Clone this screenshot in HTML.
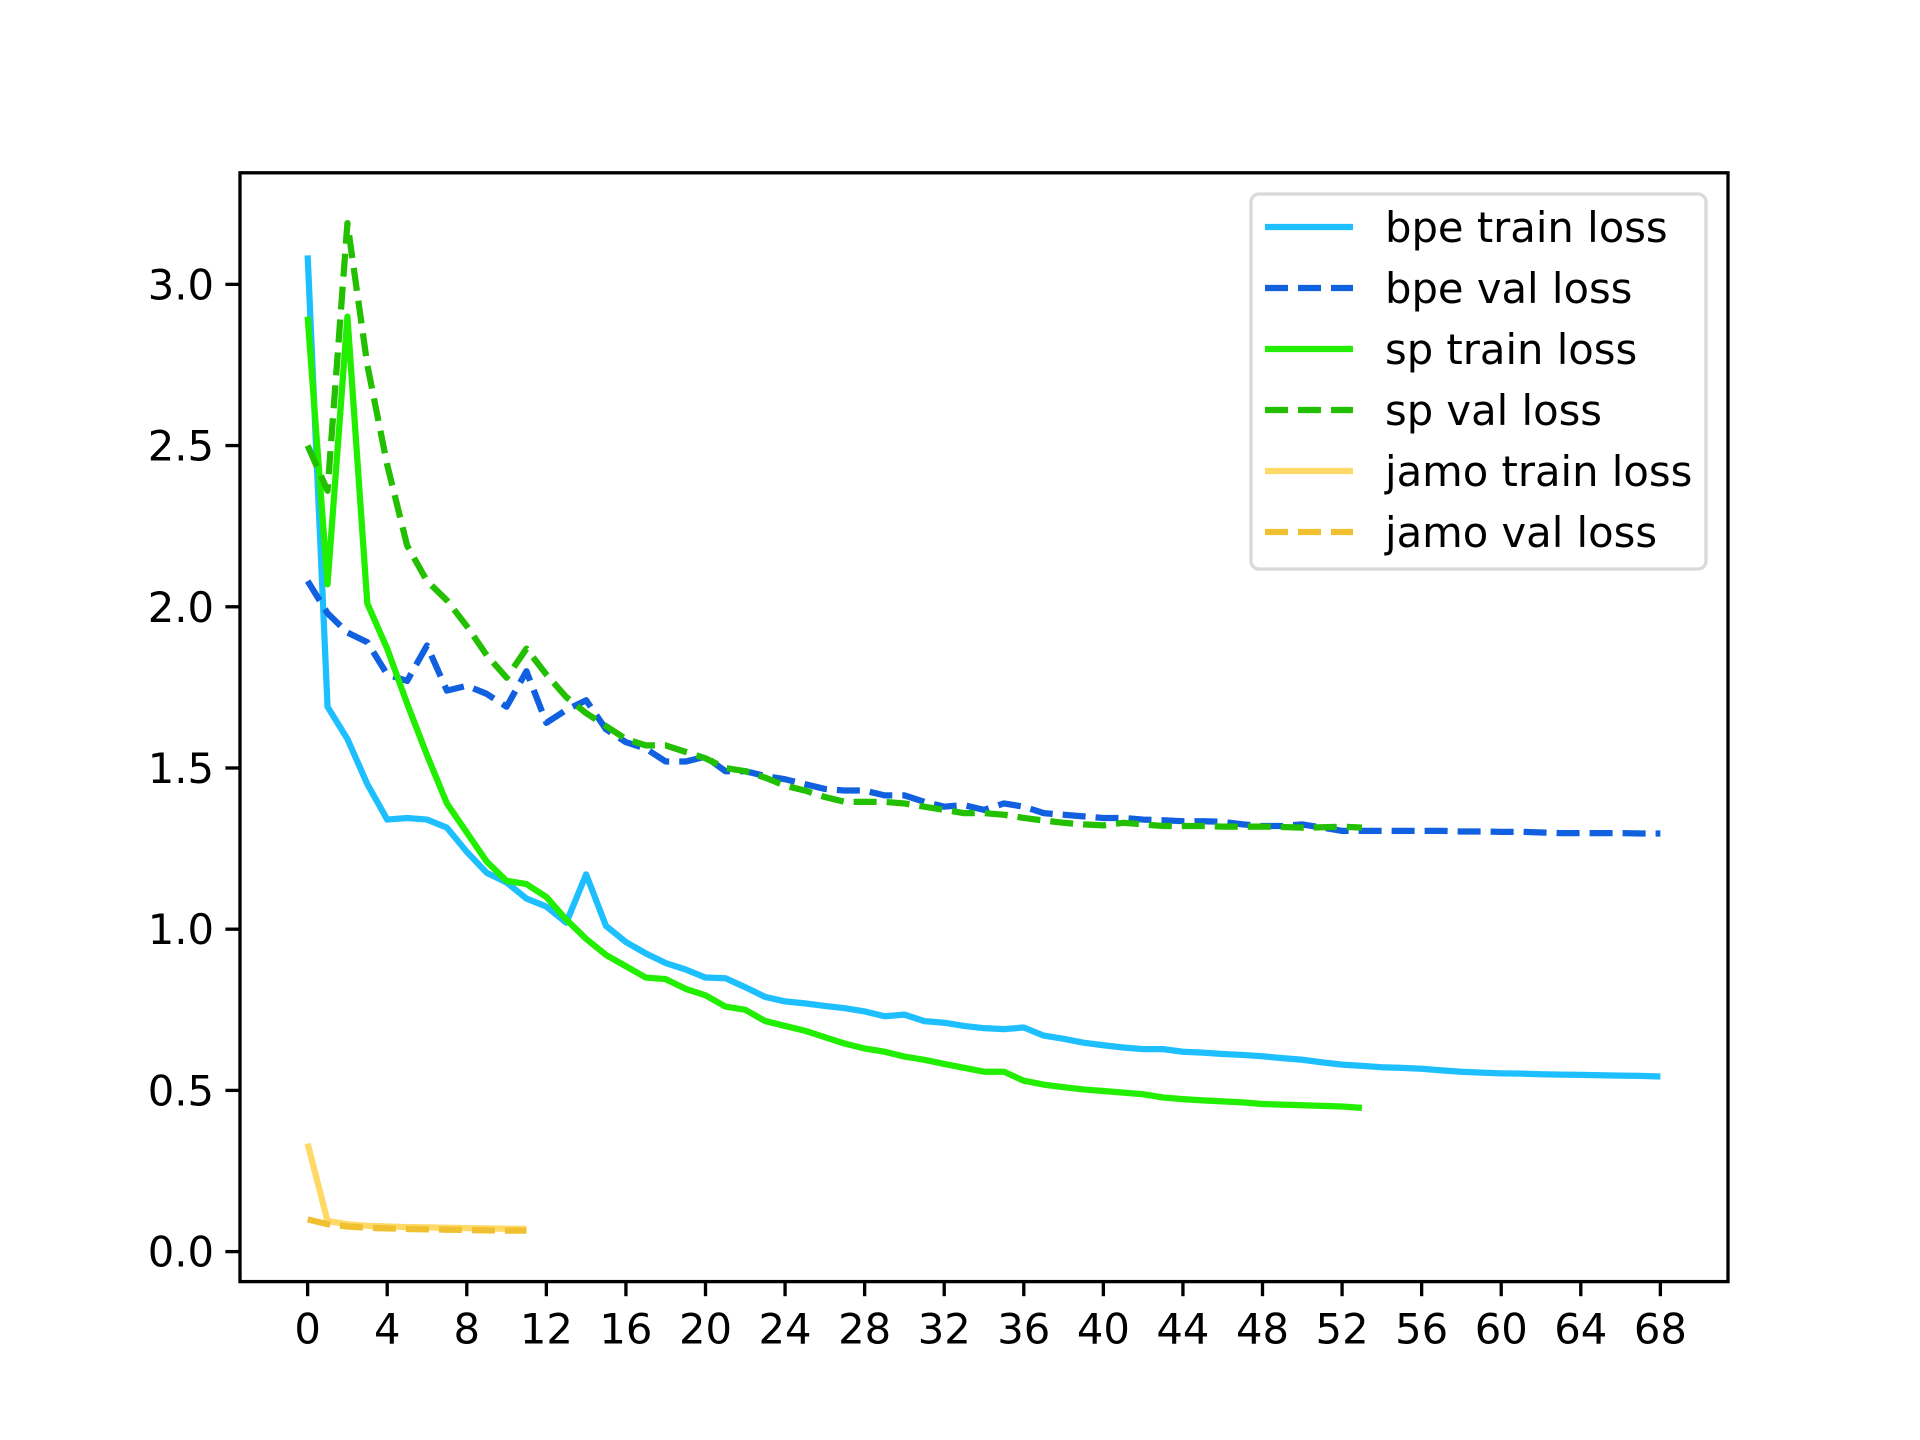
<!DOCTYPE html>
<html><head><meta charset="utf-8"><style>
html,body{margin:0;padding:0;background:#fff}
svg{display:block;font-family:"DejaVu Sans","Liberation Sans",sans-serif}
</style></head><body>
<svg id="chart" width="1920" height="1440" viewBox="0 0 1920 1440" xmlns="http://www.w3.org/2000/svg">
<rect x="0" y="0" width="1920" height="1440" fill="#fff"/>
<g id="series"></g>
<g id="axes"></g>
<g id="legend"></g>
</svg>
<script>
const xTicks = [0,4,8,12,16,20,24,28,32,36,40,44,48,52,56,60,64,68];
const yTicks = [0.0,0.5,1.0,1.5,2.0,2.5,3.0];
const yTickLabels = ["0.0","0.5","1.0","1.5","2.0","2.5","3.0"];
const bpeTrain = [3.09,1.69,1.59,1.45,1.34,1.345,1.34,1.315,1.24,1.175,1.145,1.095,1.07,1.02,1.17,1.01,0.96,0.925,0.895,0.875,0.85,0.848,0.82,0.79,0.776,0.77,0.762,0.755,0.745,0.73,0.735,0.715,0.71,0.70,0.693,0.69,0.695,0.67,0.66,0.648,0.64,0.633,0.628,0.628,0.62,0.617,0.613,0.61,0.606,0.6,0.595,0.587,0.58,0.576,0.572,0.57,0.567,0.562,0.558,0.555,0.553,0.552,0.55,0.549,0.548,0.547,0.546,0.545,0.543];
const bpeVal = [2.08,1.98,1.92,1.89,1.79,1.77,1.88,1.74,1.755,1.73,1.69,1.80,1.64,1.68,1.71,1.62,1.58,1.56,1.52,1.52,1.535,1.49,1.49,1.475,1.465,1.45,1.435,1.43,1.43,1.415,1.415,1.395,1.38,1.385,1.37,1.39,1.38,1.36,1.355,1.35,1.345,1.345,1.34,1.338,1.335,1.335,1.333,1.325,1.32,1.32,1.325,1.315,1.305,1.305,1.305,1.305,1.305,1.305,1.303,1.303,1.302,1.302,1.3,1.298,1.298,1.298,1.298,1.297,1.297];
const spTrain = [2.90,2.07,2.90,2.01,1.87,1.70,1.54,1.39,1.30,1.21,1.15,1.14,1.10,1.03,0.97,0.92,0.885,0.85,0.845,0.815,0.795,0.76,0.75,0.715,0.70,0.685,0.665,0.645,0.63,0.62,0.605,0.595,0.582,0.57,0.558,0.558,0.53,0.518,0.51,0.503,0.498,0.493,0.488,0.478,0.473,0.469,0.466,0.463,0.458,0.456,0.454,0.452,0.45,0.446];
const spVal = [2.50,2.36,3.19,2.75,2.44,2.19,2.08,2.02,1.94,1.85,1.78,1.87,1.79,1.72,1.67,1.63,1.59,1.57,1.57,1.55,1.53,1.50,1.49,1.47,1.445,1.43,1.41,1.395,1.395,1.395,1.39,1.38,1.37,1.36,1.36,1.355,1.345,1.337,1.33,1.325,1.322,1.33,1.325,1.32,1.32,1.32,1.318,1.318,1.318,1.317,1.315,1.316,1.318,1.315];
const jamoTrain = [0.335,0.095,0.085,0.08,0.078,0.076,0.075,0.074,0.073,0.072,0.071,0.07];
const jamoVal = [0.10,0.085,0.078,0.074,0.072,0.07,0.069,0.068,0.067,0.066,0.065,0.065];
const seriesNames = ["bpe train loss","bpe val loss","sp train loss","sp val loss","jamo train loss","jamo val loss"];

const NS="http://www.w3.org/2000/svg";
const L=240,R=1728,T=172.8,B=1281.6;
const xMin=-3.4,xMax=71.4,yMin=-0.093,yMax=3.346;
function sx(v){return L+(v-xMin)/(xMax-xMin)*(R-L);}
function sy(v){return B-(v-yMin)/(yMax-yMin)*(B-T);}
function mk(tag,attrs,parent){const e=document.createElementNS(NS,tag);for(const k in attrs)e.setAttribute(k,attrs[k]);parent.appendChild(e);return e;}

const styles=[
 {data:bpeTrain,color:"#1ebfff",dash:null,name:"bpe-train-loss-line"},
 {data:bpeVal,color:"#1060e0",dash:"23,10",name:"bpe-val-loss-line"},
 {data:spTrain,color:"#22ee00",dash:null,name:"sp-train-loss-line"},
 {data:spVal,color:"#22c000",dash:"23,10",name:"sp-val-loss-line"},
 {data:jamoTrain,color:"#ffd966",dash:null,name:"jamo-train-loss-line"},
 {data:jamoVal,color:"#f0c030",dash:"23,10",name:"jamo-val-loss-line"}
];
const sg=document.getElementById("series");
styles.forEach(s=>{
 const pts=s.data.map((v,i)=>sx(i).toFixed(2)+","+sy(v).toFixed(2)).join(" ");
 const a={points:pts,fill:"none",stroke:s.color,"stroke-width":6.25,"stroke-linejoin":"round"};
 if(s.dash)a["stroke-dasharray"]=s.dash;
 const p=mk("polyline",a,sg);
 
 
});

const ag=document.getElementById("axes");
const frame=mk("rect",{x:L,y:T,width:R-L,height:B-T,fill:"none",stroke:"#000","stroke-width":3.33},ag);


xTicks.forEach(t=>{
 const x=sx(t);
 const tk=mk("line",{x1:x,x2:x,y1:B,y2:B+14.6,stroke:"#000","stroke-width":3.33},ag);
 
 
 const tx=mk("text",{x:x,y:B+62,"font-size":41.7,"text-anchor":"middle",fill:"#000"},ag);
 tx.textContent=String(t);
 
 
});
yTicks.forEach((t,i)=>{
 const y=sy(t);
 const tk=mk("line",{x1:L-14.6,x2:L,y1:y,y2:y,stroke:"#000","stroke-width":3.33},ag);
 
 
 const tx=mk("text",{x:L-26,y:y+15,"font-size":41.7,"text-anchor":"end",fill:"#000"},ag);
 tx.textContent=yTickLabels[i];
 
 
});

const lg=document.getElementById("legend");
const box=mk("rect",{x:1251,y:194,width:455,height:375,rx:8,fill:"#fff","fill-opacity":0.8,stroke:"#d9d9d9","stroke-width":3.3},lg);


styles.forEach((s,i)=>{
 const y=227+i*61;
 const a={x1:1265,x2:1353,y1:y,y2:y,stroke:s.color,"stroke-width":6.25};
 if(s.dash)a["stroke-dasharray"]=s.dash;
 const ln=mk("line",a,lg);
 
 
 const tx=mk("text",{x:1385,y:y+15,"font-size":41.7,fill:"#000"},lg);
 tx.textContent=seriesNames[i];
 
 
});
</script>
</body></html>
